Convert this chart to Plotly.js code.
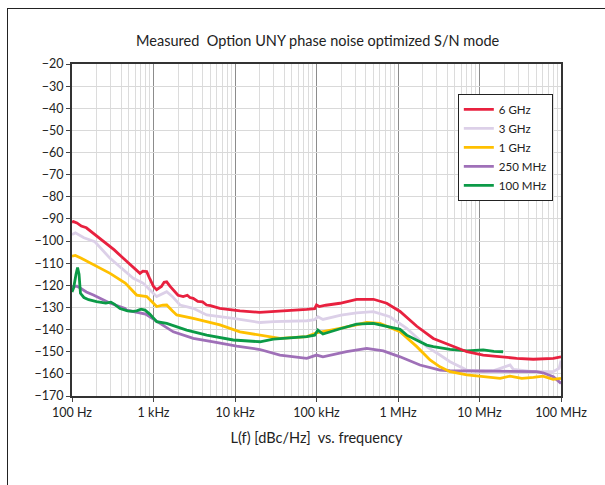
<!DOCTYPE html>
<html>
<head>
<meta charset="utf-8">
<script src="https://cdn.plot.ly/plotly-3.0.1.min.js"></script>
<style>
  html, body { margin: 0; padding: 0; background: #fff; }
  #frame { position: absolute; left: 7px; top: 8px; width: 620px; height: 500px;
           border-left: 1.5px solid #222; border-top: 1.5px solid #222; pointer-events: none; }
  #chart { position: absolute; left: 0; top: 0; width: 605px; height: 485px; }
</style>
</head>
<body>
<div id="chart"></div>
<div id="frame"></div>
<script>
// ---- data ----
const seriesNames = ["6 GHz", "3 GHz", "1 GHz", "250 MHz", "100 MHz"];

const f6G = [100,104,115,130,150,182,250,330,426,520,600,682,740,825,900,1000,1093,1250,1350,1450,1600,1834,2000,2315,2600,2800,3070,3500,4000,4480,5000,6500,8000,11500,20000,30000,50000,76000,95000,100000,108000,130000,194000,311000,500000,727000,1060000,1700000,2710000,4350000,7000000,11100000,17900000,28600000,45700000,80500000,100000000];
const v6G = [-91.5,-91.2,-91.8,-93.2,-94.0,-96.5,-100.5,-104,-107.8,-110.5,-112.8,-114.6,-113.6,-113.8,-117,-120.5,-122,-120.5,-118.6,-118.4,-120.5,-122.9,-124.5,-125.1,-124.5,-125.5,-125.9,-127.3,-127.5,-128.9,-129.2,-130.4,-130.8,-131.5,-132.2,-131.9,-131.4,-130.9,-130.5,-128.9,-129.6,-129.0,-128.1,-126.3,-126.3,-128.1,-131.8,-138.5,-144,-147,-150,-151.5,-152.3,-153,-153.4,-153,-152.3];

const f3G = [100,110,140,191,293,400,565,700,750,900,1094,1452,1700,2113,3076,4497,9530,20270,30000,76000,95000,104000,120000,200000,311000,498000,797000,1280000,2250000,3270000,4350000,7000000,11100000,15000000,23700000,26000000,33000000,46000000,80000000,95000000,100000000];
const v3G = [-97,-96.3,-98.5,-100.3,-107.8,-112,-116.8,-118.5,-119.1,-122,-125.1,-122.9,-125,-128.9,-130.4,-133.4,-134.9,-136.8,-136.4,-136,-135.5,-134.2,-135.4,-133.5,-132.4,-131.9,-134.2,-139.4,-147.7,-151.5,-154.5,-158.3,-159,-158.5,-156,-158,-158.3,-159,-159,-157.5,-154];

const f1G = [100,110,130,170,293,450,622,826,1094,1300,1452,1700,1926,3076,6540,11500,20270,30000,35600,76000,100000,194000,413000,601000,1060000,1700000,2470000,3270000,4350000,7000000,11100000,17900000,23700000,33000000,46000000,60000000,80000000,100000000];
const v1G = [-106.8,-106.5,-107.8,-110,-114.6,-119,-124.4,-125.1,-129.6,-129,-128.9,-131.5,-133.4,-134.9,-137.9,-141,-142.5,-143.5,-144,-143.2,-141.5,-139.4,-136.8,-137.2,-141,-147.7,-153.7,-156.8,-159,-160.5,-161.3,-162,-161,-162,-161.6,-161,-162.5,-162];

const f250M = [100,115,130,150,183,242,290,447,469,800,1050,1202,1750,3076,5420,10500,20270,35600,75900,100000,120000,234000,413000,660000,1060000,1860000,3270000,4350000,11100000,28600000,50000000,60000000,80500000,100000000];
const v250M = [-120.5,-120.4,-121.5,-123,-124.4,-126.6,-128,-130.4,-131.2,-133,-136,-137.2,-141,-144,-145.5,-147.5,-149,-151.5,-153,-151.5,-152.3,-150,-148.5,-149.6,-152.3,-156,-158.3,-158.6,-158.7,-159,-159,-159.5,-161.3,-164.3];

const f100M = [100,105,112,117,122,127,140,160,200,260,300,330,388,480,560,622,700,787,900,1094,1452,2553,4497,9530,20270,29500,75900,95000,104000,120000,200000,311000,498000,797000,1060000,1280000,1700000,2250000,2710000,4350000,7000000,11100000,15000000,19500000];
const v100M = [-123,-121,-115,-112,-115,-123.6,-125.5,-126.5,-127.4,-128,-127.6,-128.5,-130.5,-131.5,-131.8,-131.5,-130.8,-131.2,-133,-136.4,-137.2,-140.2,-142.5,-144.7,-145.5,-144.3,-143.2,-142.5,-140.2,-142,-139.5,-137.5,-137.2,-138.7,-139.9,-142.5,-144.7,-147,-147.7,-148.9,-149.6,-149.2,-149.8,-150];

const tickFreqs = [100, 1e3, 1e4, 1e5, 1e6, 1e7, 1e8];
const tickLabels = ["100 Hz", "1 kHz", "10 kHz", "100 kHz", "1 MHz", "10 MHz", "100 MHz"];

// ---- styling ----
const colors = ["#e8213f", "#dcd0e8", "#ffc000", "#9f70b8", "#0b9a47"];
const freqs = [f6G, f3G, f1G, f250M, f100M];
const vals = [v6G, v3G, v1G, v250M, v100M];

const traces = seriesNames.map((n, i) => ({
  type: "scatter", mode: "lines", name: n,
  x: freqs[i], y: vals[i],
  line: { color: colors[i], width: 2.8, shape: "linear" }
}));
const order = [1, 3, 2, 4, 0];
const drawn = order.map(i => traces[i]);
drawn.forEach(t => { t.legendrank = seriesNames.indexOf(t.name) + 1; });

const minorVals = [];
for (let e = 2; e < 8; e++) for (let m = 2; m <= 9; m++) minorVals.push(m * Math.pow(10, e));

const FONT = "Lato, 'Open Sans', sans-serif";

const layout = {
  width: 605, height: 485,
  margin: { l: 72, r: 44, t: 64, b: 89 },
  paper_bgcolor: "#fff", plot_bgcolor: "#fff",
  font: { family: FONT, size: 12, color: "#222" },
  title: { text: "Measured  Option UNY phase noise optimized S/N mode",
           font: { family: FONT, size: 14.5, color: "#222" }, x: 0.525, xanchor: "center", y: 0.915, yanchor: "middle" },
  showlegend: true,
  legend: { x: 0.789, y: 0.91, xanchor: "left", yanchor: "top",
            bgcolor: "#fff", bordercolor: "#222", borderwidth: 1,
            font: { family: FONT, size: 11.5, color: "#222" },
            itemwidth: 30, tracegroupgap: 0 },
  xaxis: {
    type: "log", range: [2, 8],
    tickmode: "array", tickvals: tickFreqs, ticktext: tickLabels,
    ticks: "outside", ticklen: 4, tickcolor: "#444",
    tickfont: { family: FONT, size: 12.5, color: "#222" },
    showgrid: true, gridcolor: "#8c8c8c", gridwidth: 1,
    minor: { tickmode: "array", tickvals: minorVals, showgrid: true, gridcolor: "#dcdcdc", gridwidth: 1, ticks: "" },
    showline: true, linecolor: "#333", linewidth: 2, mirror: true,
    zeroline: false,
    title: { text: "L(f) [dBc/Hz]  vs. frequency", font: { family: FONT, size: 14.5, color: "#222" }, standoff: 14 }
  },
  yaxis: {
    range: [-170, -20], dtick: 10, tick0: -20,
    ticks: "outside", ticklen: 4, tickcolor: "#444",
    tickfont: { family: FONT, size: 12.5, color: "#222" },
    showgrid: true, gridcolor: "#d9d9d9", gridwidth: 1,
    showline: true, linecolor: "#333", linewidth: 2, mirror: true,
    zeroline: false
  }
};

Plotly.newPlot("chart", drawn, layout, { staticPlot: true, displayModeBar: false });
</script>
</body>
</html>
